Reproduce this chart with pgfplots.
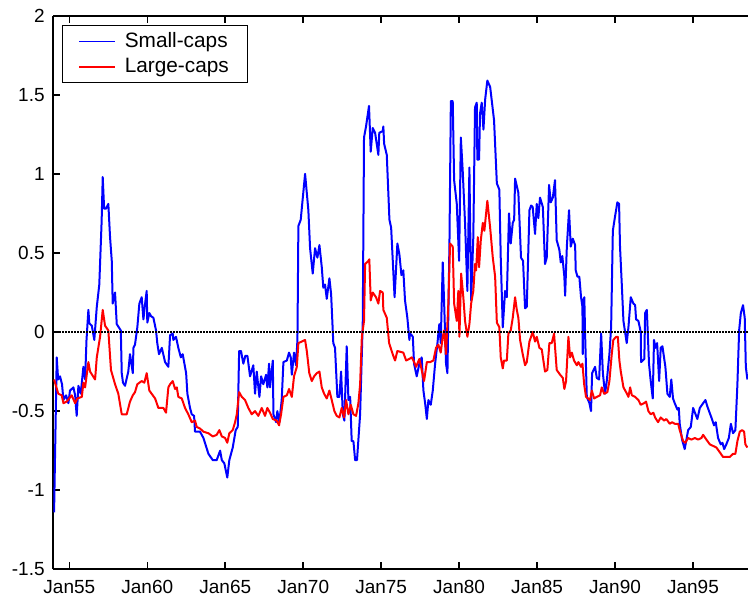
\documentclass[border=0pt]{standalone}
\usepackage{pgfplots}
\pgfplotsset{compat=1.18}
\usepackage{fontspec}
\setmainfont{Liberation Sans}
\definecolor{mblue}{RGB}{0,0,255}
\definecolor{mred}{RGB}{255,0,0}
\pgfplotstableread{
year val
1954.02 -1.14
1954.19 -0.16
1954.28 -0.30
1954.40 -0.28
1954.53 -0.33
1954.62 -0.43
1954.79 -0.40
1954.94 -0.45
1955.04 -0.37
1955.26 -0.35
1955.37 -0.40
1955.47 -0.53
1955.58 -0.34
1955.73 -0.39
1955.90 -0.22
1956.01 -0.30
1956.10 -0.05
1956.22 0.14
1956.28 0.055
1956.44 0.04
1956.60 -0.05
1956.76 0.16
1956.92 0.30
1957.07 0.70
1957.14 0.98
1957.23 0.78
1957.35 0.78
1957.50 0.81
1957.61 0.60
1957.72 0.45
1957.78 0.18
1957.93 0.25
1958.04 0.05
1958.30 0.01
1958.36 -0.26
1958.44 -0.32
1958.57 -0.34
1958.78 -0.25
1958.89 -0.14
1959.07 -0.26
1959.11 -0.10
1959.21 -0.08
1959.36 0.03
1959.49 0.18
1959.64 0.22
1959.75 0.08
1959.86 0.18
1959.96 0.26
1960.00 0.06
1960.13 0.12
1960.24 0.10
1960.39 0.09
1960.56 0.01
1960.64 -0.07
1960.75 -0.14
1960.93 -0.10
1961.14 -0.19
1961.35 -0.22
1961.46 -0.02
1961.63 -0.01
1961.67 -0.05
1961.84 -0.03
1961.99 -0.10
1962.15 -0.16
1962.27 -0.14
1962.49 -0.26
1962.57 -0.39
1962.74 -0.48
1962.85 -0.52
1963.00 -0.53
1963.06 -0.63
1963.38 -0.63
1963.60 -0.67
1963.92 -0.77
1964.20 -0.81
1964.45 -0.81
1964.67 -0.75
1964.78 -0.81
1964.94 -0.83
1965.13 -0.92
1965.26 -0.81
1965.48 -0.73
1965.67 -0.62
1965.80 -0.60
1965.84 -0.37
1965.89 -0.12
1966.01 -0.12
1966.16 -0.20
1966.29 -0.15
1966.42 -0.15
1966.59 -0.28
1966.80 -0.21
1966.91 -0.39
1967.02 -0.25
1967.19 -0.41
1967.30 -0.28
1967.44 -0.33
1967.62 -0.27
1967.70 -0.35
1967.81 -0.20
1967.87 -0.35
1968.05 -0.18
1968.09 -0.52
1968.26 -0.57
1968.34 -0.50
1968.47 -0.57
1968.62 -0.43
1968.73 -0.19
1968.95 -0.18
1969.09 -0.13
1969.20 -0.16
1969.27 -0.27
1969.41 -0.13
1969.54 -0.21
1969.63 -0.05
1969.69 0.67
1969.84 0.71
1970.12 1.00
1970.33 0.77
1970.44 0.53
1970.61 0.37
1970.76 0.53
1970.91 0.47
1971.04 0.55
1971.19 0.41
1971.29 0.28
1971.40 0.30
1971.51 0.21
1971.68 0.34
1971.79 0.24
1971.93 -0.07
1972.04 -0.10
1972.19 -0.41
1972.32 -0.41
1972.43 -0.25
1972.54 -0.52
1972.64 -0.56
1972.79 -0.09
1972.90 -0.43
1973.01 -0.41
1973.11 -0.69
1973.22 -0.69
1973.33 -0.81
1973.45 -0.81
1973.65 -0.52
1973.82 0.07
1973.90 1.23
1974.03 1.30
1974.22 1.43
1974.33 1.14
1974.46 1.29
1974.61 1.26
1974.82 1.12
1974.88 1.26
1975.10 1.27
1975.14 1.30
1975.19 1.19
1975.36 1.12
1975.53 0.71
1975.64 0.66
1975.86 0.22
1976.04 0.56
1976.17 0.49
1976.30 0.36
1976.42 0.39
1976.53 0.20
1976.68 0.09
1976.81 -0.05
1976.85 -0.01
1976.96 -0.02
1977.03 -0.03
1977.11 -0.20
1977.28 -0.28
1977.45 -0.20
1977.60 -0.16
1977.71 -0.37
1977.82 -0.45
1977.93 -0.55
1978.03 -0.43
1978.18 -0.46
1978.31 -0.37
1978.46 -0.20
1978.61 -0.07
1978.73 0.05
1978.82 -0.07
1978.95 0.44
1979.04 0.18
1979.16 -0.20
1979.25 -0.26
1979.38 0.56
1979.47 1.46
1979.59 1.46
1979.68 0.96
1979.85 0.81
1980.00 0.45
1980.11 1.23
1980.23 1.02
1980.38 0.69
1980.53 0.26
1980.66 1.04
1980.77 0.20
1980.91 0.60
1981.02 1.42
1981.13 1.45
1981.17 1.09
1981.28 1.09
1981.34 1.38
1981.45 1.45
1981.56 1.28
1981.67 1.47
1981.81 1.59
1981.99 1.55
1982.24 1.34
1982.42 0.94
1982.58 0.90
1982.67 0.47
1982.80 0.03
1982.95 0.26
1983.06 0.22
1983.20 0.75
1983.31 0.56
1983.44 0.69
1983.53 0.71
1983.59 0.97
1983.80 0.88
1983.97 0.47
1984.10 0.45
1984.23 0.15
1984.34 0.16
1984.51 0.77
1984.62 0.80
1984.72 0.79
1984.87 0.62
1984.98 0.81
1985.08 0.72
1985.19 0.85
1985.37 0.79
1985.51 0.43
1985.62 0.47
1985.77 0.93
1985.88 0.82
1986.01 0.85
1986.15 0.96
1986.26 0.58
1986.43 0.52
1986.52 0.44
1986.62 0.48
1986.75 0.35
1986.80 0.23
1986.91 0.54
1987.05 0.77
1987.16 0.54
1987.29 0.59
1987.44 0.55
1987.48 0.39
1987.59 0.35
1987.71 0.35
1987.82 0.22
1987.91 0.16
1987.93 -0.14
1987.97 0.20
1988.03 0.22
1988.08 -0.01
1988.19 -0.41
1988.36 -0.45
1988.46 -0.50
1988.53 -0.26
1988.72 -0.22
1988.83 -0.29
1988.98 -0.30
1989.11 -0.01
1989.22 -0.26
1989.36 -0.39
1989.47 -0.31
1989.64 -0.14
1989.75 0.03
1989.86 0.64
1990.00 0.73
1990.15 0.82
1990.26 0.81
1990.32 0.54
1990.43 0.31
1990.54 0.07
1990.75 -0.07
1990.86 0.03
1991.01 0.22
1991.18 0.18
1991.29 0.17
1991.35 0.08
1991.50 0.07
1991.65 0.00
1991.67 -0.19
1991.88 -0.17
1991.93 0.12
1992.04 0.14
1992.18 -0.20
1992.29 -0.31
1992.42 -0.42
1992.50 -0.05
1992.59 -0.10
1992.70 -0.07
1992.83 -0.31
1992.93 -0.10
1993.04 -0.09
1993.23 -0.22
1993.36 -0.39
1993.51 -0.41
1993.61 -0.30
1993.72 -0.42
1993.83 -0.45
1994.00 -0.49
1994.09 -0.48
1994.15 -0.58
1994.30 -0.68
1994.47 -0.74
1994.69 -0.62
1994.86 -0.60
1995.01 -0.48
1995.28 -0.55
1995.44 -0.48
1995.65 -0.45
1995.80 -0.43
1995.92 -0.47
1996.18 -0.54
1996.35 -0.59
1996.46 -0.57
1996.61 -0.67
1996.78 -0.71
1996.89 -0.70
1997.00 -0.74
1997.14 -0.71
1997.30 -0.67
1997.43 -0.58
1997.57 -0.64
1997.72 -0.62
1997.85 -0.33
1997.96 0.01
1998.07 0.12
1998.21 0.17
1998.32 0.09
1998.39 -0.22
1998.49 -0.30
}\smallcaps
\pgfplotstableread{
year val
1954.02 -0.30
1954.08 -0.32
1954.29 -0.39
1954.51 -0.40
1954.62 -0.45
1954.83 -0.44
1955.15 -0.40
1955.37 -0.45
1955.51 -0.42
1955.80 -0.41
1955.90 -0.32
1956.01 -0.35
1956.22 -0.19
1956.33 -0.25
1956.65 -0.30
1956.76 -0.16
1956.97 -0.03
1957.14 0.14
1957.29 0.04
1957.50 0.01
1957.67 -0.24
1957.93 -0.33
1958.14 -0.39
1958.36 -0.52
1958.68 -0.52
1958.89 -0.44
1959.07 -0.40
1959.21 -0.38
1959.36 -0.33
1959.64 -0.31
1959.81 -0.32
1959.96 -0.26
1960.13 -0.37
1960.50 -0.42
1960.71 -0.48
1961.03 -0.48
1961.20 -0.51
1961.35 -0.35
1961.46 -0.33
1961.63 -0.31
1961.78 -0.36
1961.89 -0.35
1961.99 -0.41
1962.21 -0.42
1962.42 -0.48
1962.63 -0.52
1962.85 -0.57
1963.06 -0.56
1963.17 -0.60
1963.38 -0.61
1963.60 -0.63
1963.92 -0.64
1964.20 -0.66
1964.45 -0.65
1964.62 -0.62
1964.78 -0.66
1964.99 -0.67
1965.13 -0.70
1965.26 -0.64
1965.48 -0.62
1965.63 -0.57
1965.74 -0.52
1965.89 -0.38
1966.06 -0.41
1966.27 -0.43
1966.48 -0.48
1966.70 -0.52
1966.91 -0.50
1967.12 -0.53
1967.34 -0.48
1967.55 -0.53
1967.70 -0.48
1967.87 -0.51
1968.05 -0.55
1968.30 -0.56
1968.45 -0.59
1968.58 -0.52
1968.73 -0.41
1968.95 -0.40
1969.09 -0.36
1969.27 -0.41
1969.41 -0.28
1969.59 -0.22
1969.69 -0.07
1969.91 -0.06
1970.12 -0.05
1970.23 -0.12
1970.39 -0.26
1970.55 -0.31
1970.70 -0.28
1970.87 -0.26
1971.04 -0.25
1971.19 -0.35
1971.34 -0.39
1971.51 -0.42
1971.68 -0.37
1971.83 -0.43
1972.00 -0.50
1972.15 -0.53
1972.32 -0.54
1972.47 -0.48
1972.62 -0.54
1972.75 -0.43
1972.90 -0.52
1973.05 -0.46
1973.22 -0.52
1973.39 -0.53
1973.54 -0.45
1973.65 -0.33
1973.76 -0.03
1973.90 0.07
1973.97 0.43
1974.18 0.45
1974.24 0.46
1974.33 0.20
1974.46 0.25
1974.67 0.22
1974.82 0.18
1974.93 0.26
1975.10 0.25
1975.14 0.14
1975.36 0.09
1975.51 -0.07
1975.74 -0.14
1975.89 -0.18
1976.04 -0.12
1976.42 -0.13
1976.60 -0.18
1976.81 -0.17
1976.96 -0.16
1977.07 -0.18
1977.24 -0.22
1977.45 -0.17
1977.60 -0.24
1977.75 -0.31
1977.93 -0.19
1978.14 -0.19
1978.35 -0.18
1978.52 -0.10
1978.67 -0.08
1978.82 -0.13
1978.95 -0.03
1979.04 0.01
1979.16 -0.14
1979.31 0.18
1979.42 0.56
1979.59 0.54
1979.68 0.18
1979.85 0.07
1979.95 0.26
1980.02 -0.03
1980.13 0.37
1980.27 0.22
1980.38 0.07
1980.53 -0.03
1980.66 0.05
1980.77 0.18
1980.91 0.26
1981.02 0.43
1981.09 0.39
1981.20 0.60
1981.28 0.41
1981.39 0.58
1981.52 0.69
1981.62 0.64
1981.81 0.83
1981.99 0.66
1982.16 0.47
1982.31 0.35
1982.42 0.06
1982.58 0.03
1982.67 -0.16
1982.80 -0.23
1982.88 -0.18
1983.06 -0.18
1983.16 -0.01
1983.31 0.01
1983.44 0.09
1983.59 0.22
1983.70 0.14
1983.80 0.09
1983.91 -0.05
1984.08 -0.14
1984.23 -0.21
1984.34 -0.19
1984.51 -0.06
1984.72 0.00
1984.87 -0.06
1984.98 -0.03
1985.15 -0.10
1985.30 -0.11
1985.51 -0.25
1985.66 -0.24
1985.79 -0.07
1985.94 -0.07
1986.09 -0.01
1986.26 -0.24
1986.48 -0.27
1986.65 -0.29
1986.75 -0.36
1986.86 -0.31
1987.01 -0.03
1987.12 -0.16
1987.23 -0.13
1987.37 -0.18
1987.55 -0.21
1987.65 -0.19
1987.82 -0.22
1987.91 -0.20
1988.02 -0.33
1988.14 -0.41
1988.40 -0.43
1988.51 -0.37
1988.66 -0.42
1988.83 -0.41
1989.04 -0.40
1989.15 -0.35
1989.30 -0.39
1989.51 -0.38
1989.64 -0.31
1989.79 -0.14
1989.89 -0.05
1990.07 -0.03
1990.18 -0.03
1990.28 -0.18
1990.37 -0.25
1990.54 -0.35
1990.71 -0.38
1990.86 -0.41
1990.97 -0.35
1991.08 -0.40
1991.29 -0.41
1991.50 -0.43
1991.65 -0.46
1991.86 -0.45
1991.99 -0.44
1992.14 -0.50
1992.29 -0.52
1992.46 -0.51
1992.57 -0.54
1992.76 -0.57
1992.93 -0.54
1993.15 -0.56
1993.29 -0.55
1993.51 -0.58
1993.66 -0.57
1993.83 -0.58
1994.05 -0.58
1994.15 -0.62
1994.37 -0.69
1994.51 -0.70
1994.69 -0.67
1994.90 -0.68
1995.12 -0.67
1995.33 -0.68
1995.54 -0.67
1995.65 -0.65
1995.86 -0.68
1996.08 -0.71
1996.29 -0.72
1996.50 -0.73
1996.72 -0.76
1996.93 -0.79
1997.14 -0.79
1997.36 -0.79
1997.57 -0.77
1997.72 -0.77
1997.85 -0.69
1998.00 -0.63
1998.15 -0.62
1998.28 -0.63
1998.36 -0.71
1998.49 -0.73
}\largecaps
\begin{document}
\begin{tikzpicture}
\begin{axis}[
  scale only axis,
  width=347.35pt, height=276.8pt,
  xmin=1953.97, xmax=1998.53,
  ymin=-1.5, ymax=2,
  axis x line=box,
  axis y line=left,
  y axis line style={-},
  axis line style={line width=1pt},
  tick align=inside,
  xtick pos=both,
  ytick pos=left,
  major tick length=3.5pt,
  tick style={line width=0.8pt, black},
  xtick={1955,1960,1965,1970,1975,1980,1985,1990,1995},
  xticklabels={Jan55,Jan60,Jan65,Jan70,Jan75,Jan80,Jan85,Jan90,Jan95},
  ytick={-1.5,-1,-0.5,0,0.5,1,1.5,2},
  yticklabels={-1.5,-1,-0.5,0,0.5,1,1.5,2},
  tick label style={font=\fontsize{9.5}{11}\selectfont},
  xticklabel style={yshift=-2pt},
  yticklabel style={xshift=-0.8pt},
  legend cell align=left,
  legend style={at={(0,1)}, anchor=north west, xshift=4.35pt, yshift=-4.65pt,
    draw=black, line width=0.6pt, font=\fontsize{10.4}{12}\selectfont,
    inner xsep=8pt, inner ysep=1.8pt, row sep=1pt, column sep=3pt,
    nodes={inner sep=1.5pt}},
  legend image code/.code={\draw[#1, line width=0.6pt] (0pt,0pt) -- (18pt,0pt);},
]
\addplot[mblue, line width=1pt, line join=round] table[x=year,y=val] {\smallcaps};
\addlegendentry{Small-caps}
\addplot[mred, line width=1pt, line join=round] table[x=year,y=val] {\largecaps};
\addlegendentry{Large-caps}
\addplot[black, line width=0.7pt, dash pattern=on 0.75pt off 0.75pt, forget plot] coordinates {(1953.97,0) (1998.53,0)};
\end{axis}
\pgfresetboundingbox
\useasboundingbox ([shift={(-26.65pt,-16.35pt)}]current axis.south west) rectangle ([shift={(0pt,7.85pt)}]current axis.north east);
\end{tikzpicture}
\end{document}
